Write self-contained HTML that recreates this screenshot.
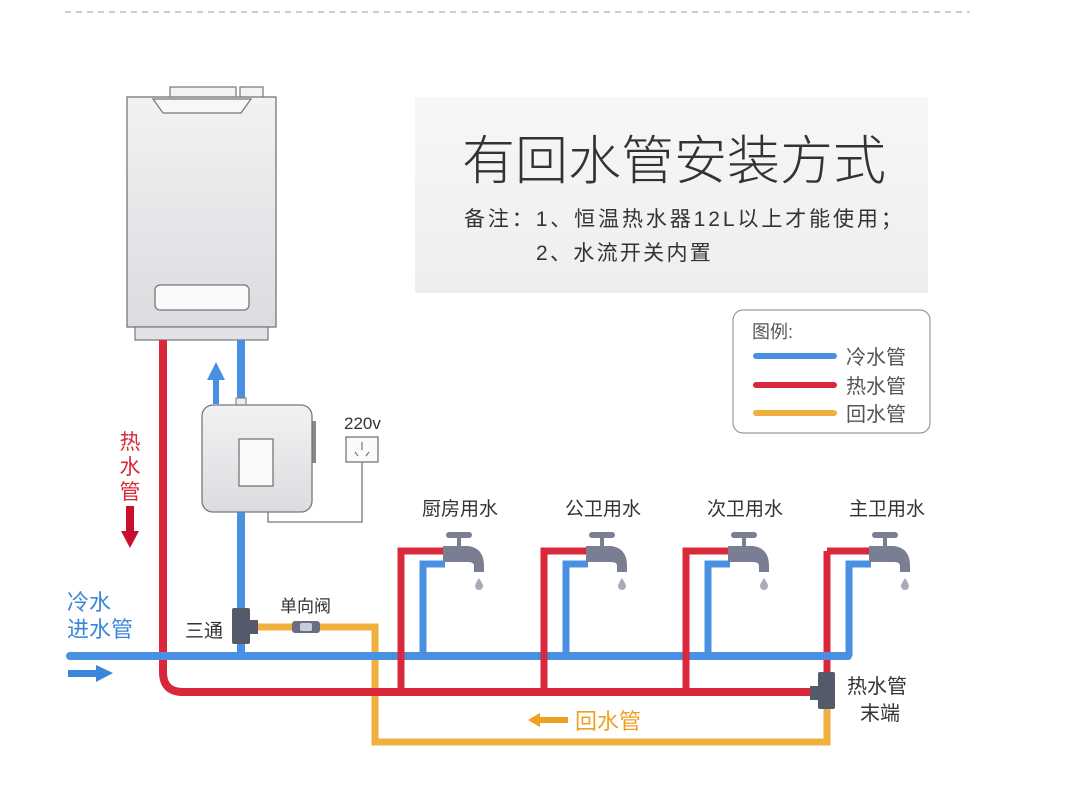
<!DOCTYPE html>
<html><head><meta charset="utf-8"><style>
html,body{margin:0;padding:0;background:#fff;}
svg{display:block;}
text{font-family:"Liberation Sans","Noto Sans CJK SC",sans-serif;}
</style></head><body>
<svg width="1088" height="800" viewBox="0 0 1088 800" xmlns="http://www.w3.org/2000/svg">
<defs>
<linearGradient id="hg" x1="0" y1="0" x2="0" y2="1"><stop offset="0" stop-color="#f2f2f4"/><stop offset="1" stop-color="#dcdce0"/></linearGradient>
<linearGradient id="tb" x1="0" y1="0" x2="0" y2="1"><stop offset="0" stop-color="#f7f7f8"/><stop offset="1" stop-color="#eeeef0"/></linearGradient>
</defs>
<line x1="65" y1="12" x2="970" y2="12" stroke="#bbb" stroke-width="1.5" stroke-dasharray="6,5"/>

<!-- title box -->
<rect x="415" y="97" width="513" height="196" fill="url(#tb)"/>
<text x="674" y="179" font-size="53" fill="#333" text-anchor="middle" font-weight="300">有回水管安装方式</text>
<text x="464" y="226" font-size="21" fill="#333" letter-spacing="2.9">备注：1、恒温热水器12L以上才能使用；</text>
<text x="536" y="260" font-size="21" fill="#333" letter-spacing="2.3">2、水流开关内置</text>

<!-- legend -->
<rect x="733" y="310" width="197" height="123" rx="10" fill="#fff" stroke="#999" stroke-width="1.2"/>
<text x="752" y="338" font-size="18" fill="#555">图例:</text>
<line x1="756" y1="356" x2="834" y2="356" stroke="#4a90e2" stroke-width="6" stroke-linecap="round"/>
<line x1="756" y1="385" x2="834" y2="385" stroke="#d8283a" stroke-width="6" stroke-linecap="round"/>
<line x1="756" y1="413" x2="834" y2="413" stroke="#f0b040" stroke-width="6" stroke-linecap="round"/>
<text x="846" y="364" font-size="20" fill="#555">冷水管</text>
<text x="846" y="393" font-size="20" fill="#555">热水管</text>
<text x="846" y="421" font-size="20" fill="#555">回水管</text>

<!-- heater -->
<rect x="170" y="87" width="66" height="11" fill="#f3f3f5" stroke="#777" stroke-width="1.2"/>
<rect x="240" y="87" width="23" height="11" fill="#f3f3f5" stroke="#777" stroke-width="1.2"/>
<rect x="127" y="97" width="149" height="230" fill="url(#hg)" stroke="#777" stroke-width="1.3"/>
<polygon points="153,99 251,99 241,113 163,113" fill="#f7f7f8" stroke="#777" stroke-width="1.2"/>
<rect x="155" y="285" width="94" height="25" rx="5" fill="#fafafa" stroke="#777" stroke-width="1.3"/>
<rect x="135" y="327" width="133" height="13" fill="#e2e2e6" stroke="#777" stroke-width="1.2"/>

<!-- orange return -->
<polyline points="256,627 375,627 375,742 827,742 827,705" fill="none" stroke="#f0b040" stroke-width="7"/>
<!-- red hot -->
<path d="M163,340 L163,672 Q163,692 183,692 L818,692" fill="none" stroke="#d8283a" stroke-width="8"/>
<line x1="827" y1="551" x2="827" y2="680" stroke="#d8283a" stroke-width="7"/>
<!-- blue -->
<line x1="241" y1="340" x2="241" y2="656" stroke="#4a90e2" stroke-width="8"/>
<line x1="70" y1="656" x2="848" y2="656" stroke="#4a90e2" stroke-width="8" stroke-linecap="round"/>

<!-- taps -->
<g>
<polyline points="401,692 401,551 445,551" fill="none" stroke="#d8283a" stroke-width="7"/>
<polyline points="423,656 423,564 445,564" fill="none" stroke="#4a90e2" stroke-width="7"/>
</g>
<g transform="translate(143,0)">
<polyline points="401,692 401,551 445,551" fill="none" stroke="#d8283a" stroke-width="7"/>
<polyline points="423,656 423,564 445,564" fill="none" stroke="#4a90e2" stroke-width="7"/>
</g>
<g transform="translate(285,0)">
<polyline points="401,692 401,551 445,551" fill="none" stroke="#d8283a" stroke-width="7"/>
<polyline points="423,656 423,564 445,564" fill="none" stroke="#4a90e2" stroke-width="7"/>
</g>
<g transform="translate(426,0)">
<polyline points="401,551 445,551" fill="none" stroke="#d8283a" stroke-width="7"/>
<polyline points="423,656 423,564 445,564" fill="none" stroke="#4a90e2" stroke-width="7"/>
</g>

<g fill="#7a7e92">
<g id="tap">
<rect x="446" y="532" width="26" height="6" rx="3"/>
<rect x="457" y="536" width="4" height="12"/>
<path d="M443,546 L468,546 Q484,548 484,566 L484,572 L474,572 L474,566 Q474,562 468,562 L443,562 Z"/>
<path d="M479,578 Q483,584 483,586 A4,4 0 0 1 475,586 Q475,584 479,578 Z" fill="#a8abbc"/>
</g>
<use href="#tap" transform="translate(143,0)"/>
<use href="#tap" transform="translate(285,0)"/>
<use href="#tap" transform="translate(426,0)"/>
</g>
<text x="460" y="515" font-size="19" fill="#333" text-anchor="middle">厨房用水</text>
<text x="603" y="515" font-size="19" fill="#333" text-anchor="middle">公卫用水</text>
<text x="745" y="515" font-size="19" fill="#333" text-anchor="middle">次卫用水</text>
<text x="887" y="515" font-size="19" fill="#333" text-anchor="middle">主卫用水</text>

<!-- end fitting -->
<rect x="810" y="686" width="10" height="14" fill="#555a6a"/>
<rect x="818" y="672" width="17" height="37" rx="2" fill="#555a6a"/>
<text x="847" y="693" font-size="20" fill="#333">热水管</text>
<text x="860" y="720" font-size="20" fill="#333">末端</text>

<!-- return label -->
<polygon points="528,720 540,713 540,717 568,717 568,723 540,723 540,727" fill="#f0a020"/>
<text x="575" y="729" font-size="22" fill="#f0a020">回水管</text>

<!-- tee and valve -->
<rect x="248" y="620" width="10" height="14" fill="#555a6a"/>
<rect x="232" y="608" width="18" height="36" rx="2" fill="#555a6a"/>
<text x="185" y="637" font-size="19" fill="#333">三通</text>
<rect x="292" y="621" width="28" height="12" rx="3" fill="#6a6e80"/>
<rect x="300" y="623" width="12" height="8" rx="2" fill="#c8ccd8"/>
<text x="280" y="612" font-size="17" fill="#333">单向阀</text>

<!-- pump box -->
<rect x="236" y="398" width="10" height="8" fill="#eee" stroke="#777"/>
<rect x="312" y="421" width="4" height="42" fill="#888"/>
<rect x="202" y="405" width="110" height="107" rx="11" fill="url(#hg)" stroke="#777" stroke-width="1.3"/>
<rect x="239" y="439" width="34" height="47" fill="#fafafa" stroke="#777" stroke-width="1.3"/>
<polyline points="268,512 268,522 362,522 362,462" fill="none" stroke="#777" stroke-width="1.3"/>
<rect x="346" y="437" width="32" height="25" fill="#fafafa" stroke="#777" stroke-width="1.3"/>
<path d="M362,442 L362,450 M355,452 L358,456 M369,452 L366,456" stroke="#777" stroke-width="1.2"/>
<text x="344" y="429" font-size="17" fill="#333">220v</text>

<!-- blue up arrow -->
<rect x="213" y="378" width="6" height="26" fill="#4a90e2"/>
<polygon points="216,362 225,380 207,380" fill="#4a90e2"/>

<!-- hot label -->
<text x="130" y="449" font-size="21" fill="#d8283a" text-anchor="middle">热</text>
<text x="130" y="474" font-size="21" fill="#d8283a" text-anchor="middle">水</text>
<text x="130" y="499" font-size="21" fill="#d8283a" text-anchor="middle">管</text>
<rect x="126" y="506" width="8" height="27" fill="#c8102e"/>
<polygon points="121,531 139,531 130,548" fill="#c8102e"/>

<!-- cold inlet -->
<text x="67" y="610" font-size="22" fill="#3a86d8">冷水</text>
<text x="67" y="637" font-size="22" fill="#3a86d8">进水管</text>
<rect x="68" y="670" width="30" height="7" fill="#3a86d8"/>
<polygon points="96,665 113,673 96,682" fill="#3a86d8"/>
</svg>
</body></html>
